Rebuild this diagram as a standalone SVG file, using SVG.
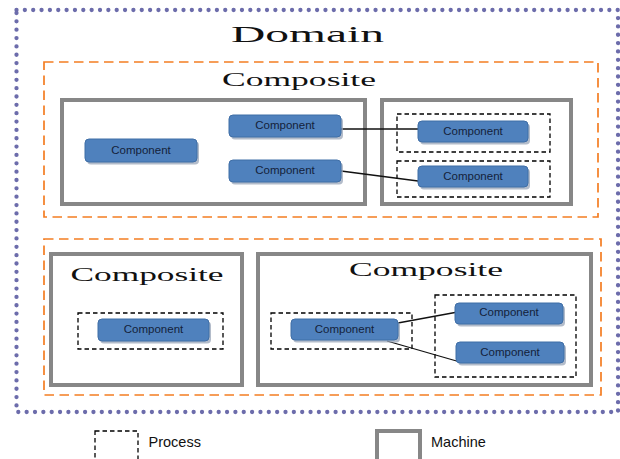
<svg xmlns="http://www.w3.org/2000/svg" width="620" height="459" viewBox="0 0 620 459">
<style>
.domain{fill:none;stroke:#6c6cab;stroke-width:4.3;stroke-dasharray:0 8.35;stroke-linecap:round}
.composite{fill:none;stroke:#f47d22;stroke-width:1.7;stroke-dasharray:9.5 5.5}
.machine{fill:#fff;stroke:#878787;stroke-width:4}
.process{fill:none;stroke:#000;stroke-width:1.3;stroke-dasharray:4.5 3}
.title{font-family:"Liberation Serif",serif;fill:#111}
.comp-shadow{fill:#9aa6b8;opacity:0.75}
.comp{fill:#4f81bd;stroke:#3f6ea6;stroke-width:1}
.comp-text{font-family:"Liberation Sans",Arial,sans-serif;font-size:11.5px;fill:#14213a;text-anchor:middle;dominant-baseline:central}
.legend{font-family:"Liberation Sans",Arial,sans-serif;font-size:14.5px;fill:#111}
.conn{stroke:#111;stroke-width:1.3;fill:none}
</style>

<g id="domain">
<rect class="domain" x="16.5" y="10" width="601.5" height="402"/>
<text class="title" x="231" y="42" font-size="23" textLength="153" lengthAdjust="spacingAndGlyphs">Domain</text>
</g>

<g id="composite-top">
<rect class="composite" x="44" y="62" width="554" height="155"/>
<text class="title" x="222" y="85.5" font-size="18" textLength="154" lengthAdjust="spacingAndGlyphs">Composite</text>
</g>

<g id="machine-1">
<rect class="machine" x="62" y="100" width="303" height="104"/>
</g>
<g id="machine-2">
<rect class="machine" x="382" y="100" width="189" height="104"/>
</g>
<g id="process-1"><rect class="process" x="397" y="114" width="153" height="38"/></g>
<g id="process-2"><rect class="process" x="397" y="161" width="153" height="36"/></g>

<g id="composite-bottom">
<rect class="composite" x="44" y="239" width="557" height="156"/>
</g>

<g id="machine-3">
<rect class="machine" x="51" y="254" width="191" height="131"/>
<text class="title" x="70.5" y="281" font-size="19" textLength="153" lengthAdjust="spacingAndGlyphs">Composite</text>
</g>
<g id="process-3"><rect class="process" x="78" y="313" width="145" height="36"/></g>

<g id="machine-4">
<rect class="machine" x="258" y="254" width="333" height="131"/>
<text class="title" x="349" y="275.5" font-size="19" textLength="154" lengthAdjust="spacingAndGlyphs">Composite</text>
</g>
<g id="process-4"><rect class="process" x="271" y="313" width="141" height="36"/></g>
<g id="process-5"><rect class="process" x="435" y="295" width="141" height="82"/></g>

<g id="connectors">
<line class="conn" x1="341" y1="129" x2="418" y2="129"/>
<line class="conn" x1="341" y1="171" x2="418" y2="181"/>
<line class="conn" x1="387" y1="325" x2="455" y2="312.5"/>
<line class="conn" x1="387" y1="341" x2="460" y2="362"/>
</g>

<g id="comp-a">
<rect class="comp-shadow" x="87" y="141.5" width="112" height="23" rx="4"/>
<rect class="comp" x="85" y="139" width="112" height="23" rx="4"/>
<text class="comp-text" x="141" y="149.5">Component</text>
</g>
<g id="comp-b">
<rect class="comp-shadow" x="231" y="117.5" width="112" height="22" rx="4"/>
<rect class="comp" x="229" y="115" width="112" height="22" rx="4"/>
<text class="comp-text" x="285" y="124.5">Component</text>
</g>
<g id="comp-c">
<rect class="comp-shadow" x="231" y="162.5" width="112" height="22" rx="4"/>
<rect class="comp" x="229" y="160" width="112" height="22" rx="4"/>
<text class="comp-text" x="285" y="169.5">Component</text>
</g>
<g id="comp-d">
<rect class="comp-shadow" x="420" y="123.5" width="110" height="21" rx="4"/>
<rect class="comp" x="418" y="121" width="110" height="21" rx="4"/>
<text class="comp-text" x="473" y="130.5">Component</text>
</g>
<g id="comp-e">
<rect class="comp-shadow" x="420" y="168.5" width="110" height="21" rx="4"/>
<rect class="comp" x="418" y="166" width="110" height="21" rx="4"/>
<text class="comp-text" x="473" y="175.5">Component</text>
</g>
<g id="comp-f">
<rect class="comp-shadow" x="100" y="321.5" width="111" height="22" rx="4"/>
<rect class="comp" x="98" y="319" width="111" height="22" rx="4"/>
<text class="comp-text" x="153.5" y="328.5">Component</text>
</g>
<g id="comp-g">
<rect class="comp-shadow" x="293" y="321.5" width="107" height="21" rx="4"/>
<rect class="comp" x="291" y="319" width="107" height="21" rx="4"/>
<text class="comp-text" x="344.5" y="328.5">Component</text>
</g>
<g id="comp-h">
<rect class="comp-shadow" x="457" y="305.5" width="108" height="21" rx="4"/>
<rect class="comp" x="455" y="303" width="108" height="21" rx="4"/>
<text class="comp-text" x="509" y="312">Component</text>
</g>
<g id="comp-i">
<rect class="comp-shadow" x="458" y="344.5" width="108" height="21" rx="4"/>
<rect class="comp" x="456" y="342" width="108" height="21" rx="4"/>
<text class="comp-text" x="510" y="351.5">Component</text>
</g>

<g id="legend-process">
<rect class="process" x="95" y="431" width="43" height="34"/>
<text class="legend" x="148.5" y="447">Process</text>
</g>
<g id="legend-machine">
<rect class="machine" x="377" y="431" width="43" height="34"/>
<text class="legend" x="431" y="447">Machine</text>
</g>
</svg>
